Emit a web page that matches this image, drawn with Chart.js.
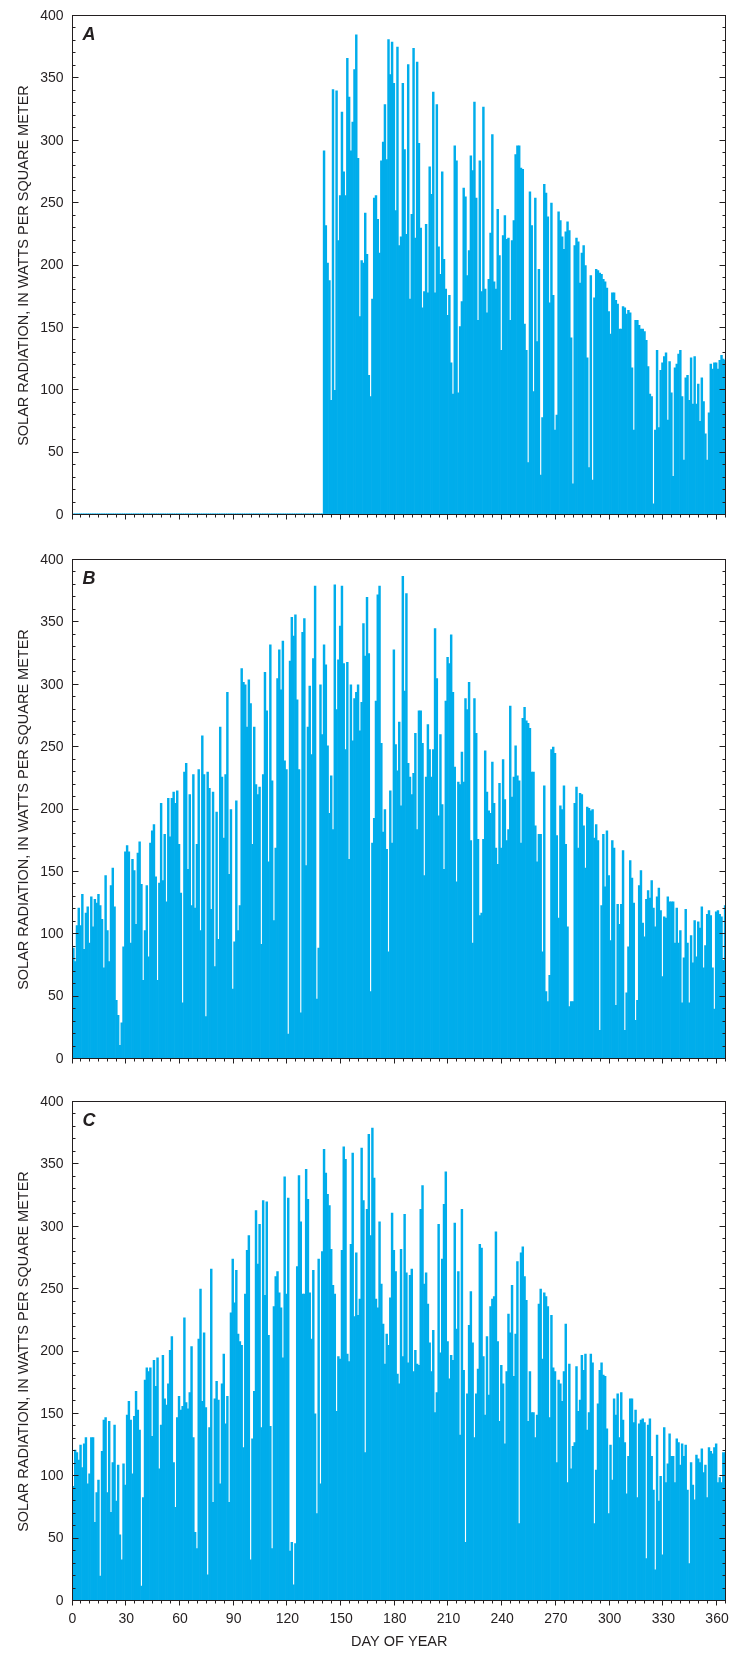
<!DOCTYPE html>
<html>
<head>
<meta charset="utf-8">
<title>Solar radiation by day of year</title>
<script src="https://cdn.jsdelivr.net/npm/chart.js@4/dist/chart.umd.min.js"></script>
<style>
  body { margin: 0; width: 730px; height: 1653px; background: #fff; position: relative; overflow: hidden; }
  .panel { position: absolute; left: 0; width: 730px; }
</style>
</head>
<body>
<div class="panel" style="top:0;height:540px"><canvas id="chartA"></canvas></div>
<div class="panel" style="top:540px;height:540px"><canvas id="chartB"></canvas></div>
<div class="panel" style="top:1080px;height:573px"><canvas id="chartC"></canvas></div>
<script>
// daily mean solar radiation, W/m2, one value per day (365 days)
const panelA = [
  1,1,1,1,1,1,1,1,1,1, 1,1,1,1,1,1,1,1,1,1, 1,1,1,1,1,1,1,1,1,1, 1,1,1,1,1,1,1,1,1,1,
  1,1,1,1,1,1,1,1,1,1, 1,1,1,1,1,1,1,1,1,1, 1,1,1,1,1,1,1,1,1,1, 1,1,1,1,1,1,1,1,1,1,
  1,1,1,1,1,1,1,1,1,1, 1,1,1,1,1,1,1,1,1,1, 1,1,1,1,1,1,1,1,1,1, 1,1,1,1,1,1,1,1,1,1,
  1,1,1,1,1,1,1,1,1,1, 1,1,1,1,1,1,1,1,1,1,
  292,232,202,188,92,341,100,340,220,256,
  323,275,256,366,335,292,315,357,385,286,
  159,204,202,242,209,112,95,173,254,256,
  237,210,284,299,329,285,381,353,379,346,
  244,375,216,223,346,293,225,361,173,241,
  374,222,363,298,230,166,179,233,178,279,
  257,339,178,329,215,193,275,205,181,160,
  176,122,97,296,284,98,151,171,262,255,
  192,212,288,276,331,254,156,284,179,327,
  181,162,189,226,305,187,181,245,208,132,
  224,240,221,222,156,220,236,289,296,296,
  278,
  277,153,132,42,259,232,99,254,139,197,
  32,78,265,258,239,170,250,176,68,80,
  243,236,223,213,227,235,228,142,25,216,
  222,219,186,210,216,200,126,38,192,28,
  174,197,196,194,193,189,187,182,163,145,
  178,178,172,169,149,149,167,166,161,164,
  162,118,68,156,156,152,149,149,147,140,
  119,97,95,9,68,132,70,116,122,127,
  130,76,123,98,31,118,121,129,132,95,
  44,110,112,92,126,89,127,89,105,75,
  110,91,65,44,82,121,117,122,122,117,
  124,128,125,124
];

const panelB = [
  89,78,107,121,107,132,88,117,122,93,
  130,106,128,125,132,123,112,73,147,103,
  78,139,153,122,47,35,11,29,90,166,
  171,166,93,160,151,108,165,174,140,63,
  103,139,82,173,183,188,146,63,141,205,
  143,180,126,209,178,209,214,205,215,172,
  133,45,230,237,152,212,123,228,121,172,
  232,103,259,228,34,230,217,120,214,74,
  198,96,266,226,177,228,294,148,200,56,
  94,207,103,123,313,302,300,266,304,285,
  172,266,220,212,218,92,228,310,279,158,
  332,223,111,169,305,328,296,335,239,232,
  20,319,354,339,356,288,232,37,342,353,
  155,266,299,244,321,379,48,89,300,260,
  332,316,251,197,227,184,380,280,320,347,
  379,317,248,318,160,300,255,289,294,300,
  263,286,349,323,370,325,54,173,193,287,
  372,379,253,182,200,168,86,215,173,328,
  252,231,270,203,
  387,295,373,237,226,212,229,261,184,279,
  279,253,147,226,268,248,226,248,345,305,
  195,260,204,152,287,322,317,340,294,234,
  142,222,220,246,222,289,280,302,175,93,
  289,261,176,115,117,176,247,214,199,197,
  238,205,169,156,221,169,240,208,175,184,
  283,210,226,251,227,223,173,273,282,271,
  269,265,230,230,187,158,180,180,86,219,
  54,46,67,248,250,245,179,113,203,200,
  219,172,106,42,46,46,205,218,169,213,
  212,187,153,202,201,199,200,177,188,175,
  23,123,180,138,183,147,95,175,169,43,
  124,108,124,167,23,53,90,159,145,125,
  31,47,139,151,109,98,128,135,129,143,
  121,106,130,137,119,66,114,113,130,126,
  126,126,93,121,93,103,45,81,120,93,
  45,99,77,111,82,110,105,122,73,91,
  116,119,115,73,40,118,119,116,114,79,
  123
];

const panelC = [
  92,121,119,113,125,107,126,131,94,102,
  131,131,63,87,97,20,120,145,147,87,
  144,71,111,141,80,109,53,33,110,93,
  149,160,145,102,148,168,153,137,12,83,
  177,187,184,187,132,193,172,195,106,141,
  197,162,157,174,201,212,111,75,147,164,
  153,156,227,159,154,167,204,131,55,42,
  210,250,160,215,155,21,139,266,79,162,
  176,161,94,174,198,142,164,79,231,274,
  239,265,214,208,205,123,246,281,293,33,
  130,168,313,270,302,139,321,245,320,213,
  140,42,236,260,264,247,235,195,340,246,
  323,40,47,13,46,268,341,304,246,246,
  346,322,247,210,265,150,70,274,94,280,
  362,343,326,317,282,253,246,152,196,194,
  281,364,354,198,192,286,359,228,279,229,
  242,363,321,119,314,374,293,379,339,242,
  235,304,254,222,190,214,205,243,311,281,
  264,182,174,
  282,196,310,263,191,261,266,184,201,190,
  189,314,333,254,263,238,207,184,217,151,
  167,302,199,274,318,344,208,178,197,193,
  303,218,264,133,314,185,47,166,221,248,
  207,131,166,186,286,283,196,149,212,165,
  236,242,244,296,208,144,189,174,126,184,
  230,215,253,180,214,272,62,279,284,260,
  241,144,184,151,151,131,149,238,250,194,
  247,244,236,147,229,187,184,111,177,174,
  160,184,222,95,190,106,124,127,188,152,
  161,197,185,198,137,151,198,191,62,105,
  158,185,191,181,180,138,70,125,97,162,
  149,166,131,167,145,127,86,116,162,162,
  143,153,83,142,145,146,143,34,141,146,
  116,89,25,133,80,100,37,139,95,110,
  134,116,116,95,130,127,109,126,116,125,
  89,30,111,93,81,117,114,111,122,103,
  109,83,123,120,118,123,126,95,99,95,
  119,119
];

const dayTicks = [0, 30, 60, 90, 120, 150, 180, 210, 240, 270, 300, 330, 360];
const yTitle = 'SOLAR RADIATION, IN WATTS PER SQUARE METER';
const xTitle = 'DAY OF YEAR';

const barColor = '#00adeb';
const inkColor = '#231f20';

Chart.defaults.font.family = '"Liberation Sans", Arial, sans-serif';
Chart.defaults.font.size = 14;
Chart.defaults.color = inkColor;

// crisp 1px line position
function crisp(v) {
    return Math.floor(v - 0.5) + 0.5;
}

// box, inward ticks on the y sides, outward ticks under the plot, panel letter
const panelFrame = {
    id: 'panelFrame',
    afterDatasetsDraw(chart, args, opts) {
        const { ctx, chartArea: a, scales: { x, y } } = chart;
        const left = crisp(a.left), right = crisp(a.right);
        const top = crisp(a.top), bottom = crisp(a.bottom);
        ctx.save();
        ctx.strokeStyle = inkColor;
        ctx.lineWidth = 1;
        ctx.strokeRect(left, top, right - left, bottom - top);
        ctx.beginPath();
        for (let v = 0; v <= 400; v += 10) {
            const py = crisp(y.getPixelForValue(v));
            const len = v % 50 === 0 ? 6 : 3;
            ctx.moveTo(left, py);
            ctx.lineTo(left + len, py);
            ctx.moveTo(right, py);
            ctx.lineTo(right - len, py);
        }
        for (let d = 0; d <= 365; d += 5) {
            const px = crisp(x.getPixelForValue(d));
            const len = d % 30 === 0 ? 5 : 3;
            ctx.moveTo(px, bottom);
            ctx.lineTo(px, bottom + len);
        }
        ctx.stroke();

        ctx.fillStyle = inkColor;
        ctx.font = 'italic bold 18px "Liberation Sans", Arial, sans-serif';
        ctx.textBaseline = 'alphabetic';
        ctx.fillText(opts.letter, a.left + 10, a.top + 24);
        ctx.restore();
    }
};

function makeChart(id, letter, values, padTop, axisHeight, showDays) {
    return new Chart(document.getElementById(id), {
        type: 'bar',
        data: {
            datasets: [{
                data: values.map((v, i) => ({ x: i + 0.5, y: v })),
                backgroundColor: barColor,
                borderWidth: 0,
                barPercentage: 1,
                categoryPercentage: 1
            }]
        },
        options: {
            animation: false,
            responsive: true,
            maintainAspectRatio: false,
            layout: { padding: { top: padTop, right: 4, bottom: 0, left: 0 } },
            plugins: {
                legend: { display: false },
                tooltip: { enabled: false },
                panelFrame: { letter: letter }
            },
            scales: {
                x: {
                    type: 'linear',
                    min: 0,
                    max: 365,
                    offset: false,
                    grid: { display: false, drawTicks: false },
                    border: { display: false },
                    afterBuildTicks: scale => {
                        scale.ticks = dayTicks.map(d => ({ value: d }));
                    },
                    ticks: {
                        display: showDays,
                        autoSkip: false,
                        maxRotation: 0,
                        padding: 10,
                        font: { size: 14 }
                    },
                    title: {
                        display: showDays,
                        text: xTitle,
                        font: { size: 14.5 },
                        padding: { top: 0, bottom: 2 }
                    },
                    afterFit: scale => {
                        scale.height = axisHeight;
                        scale.paddingLeft = 0;
                        scale.paddingRight = 0;
                    }
                },
                y: {
                    min: 0,
                    max: 400,
                    grid: { display: false, drawTicks: false },
                    border: { display: false },
                    ticks: { stepSize: 50, padding: 9, font: { size: 14 } },
                    title: {
                        display: true,
                        text: yTitle,
                        font: { size: 14.5 },
                        padding: { top: 15, bottom: 0 }
                    },
                    afterFit: scale => {
                        scale.width = 72.5;
                        scale.paddingTop = 0;
                        scale.paddingBottom = 0;
                    }
                }
            }
        },
        plugins: [panelFrame]
    });
}

makeChart('chartA', 'A', panelA, 16, 25, false);
makeChart('chartB', 'B', panelB, 20, 21, false);
makeChart('chartC', 'C', panelC, 22, 52, true);
</script>
</body>
</html>
